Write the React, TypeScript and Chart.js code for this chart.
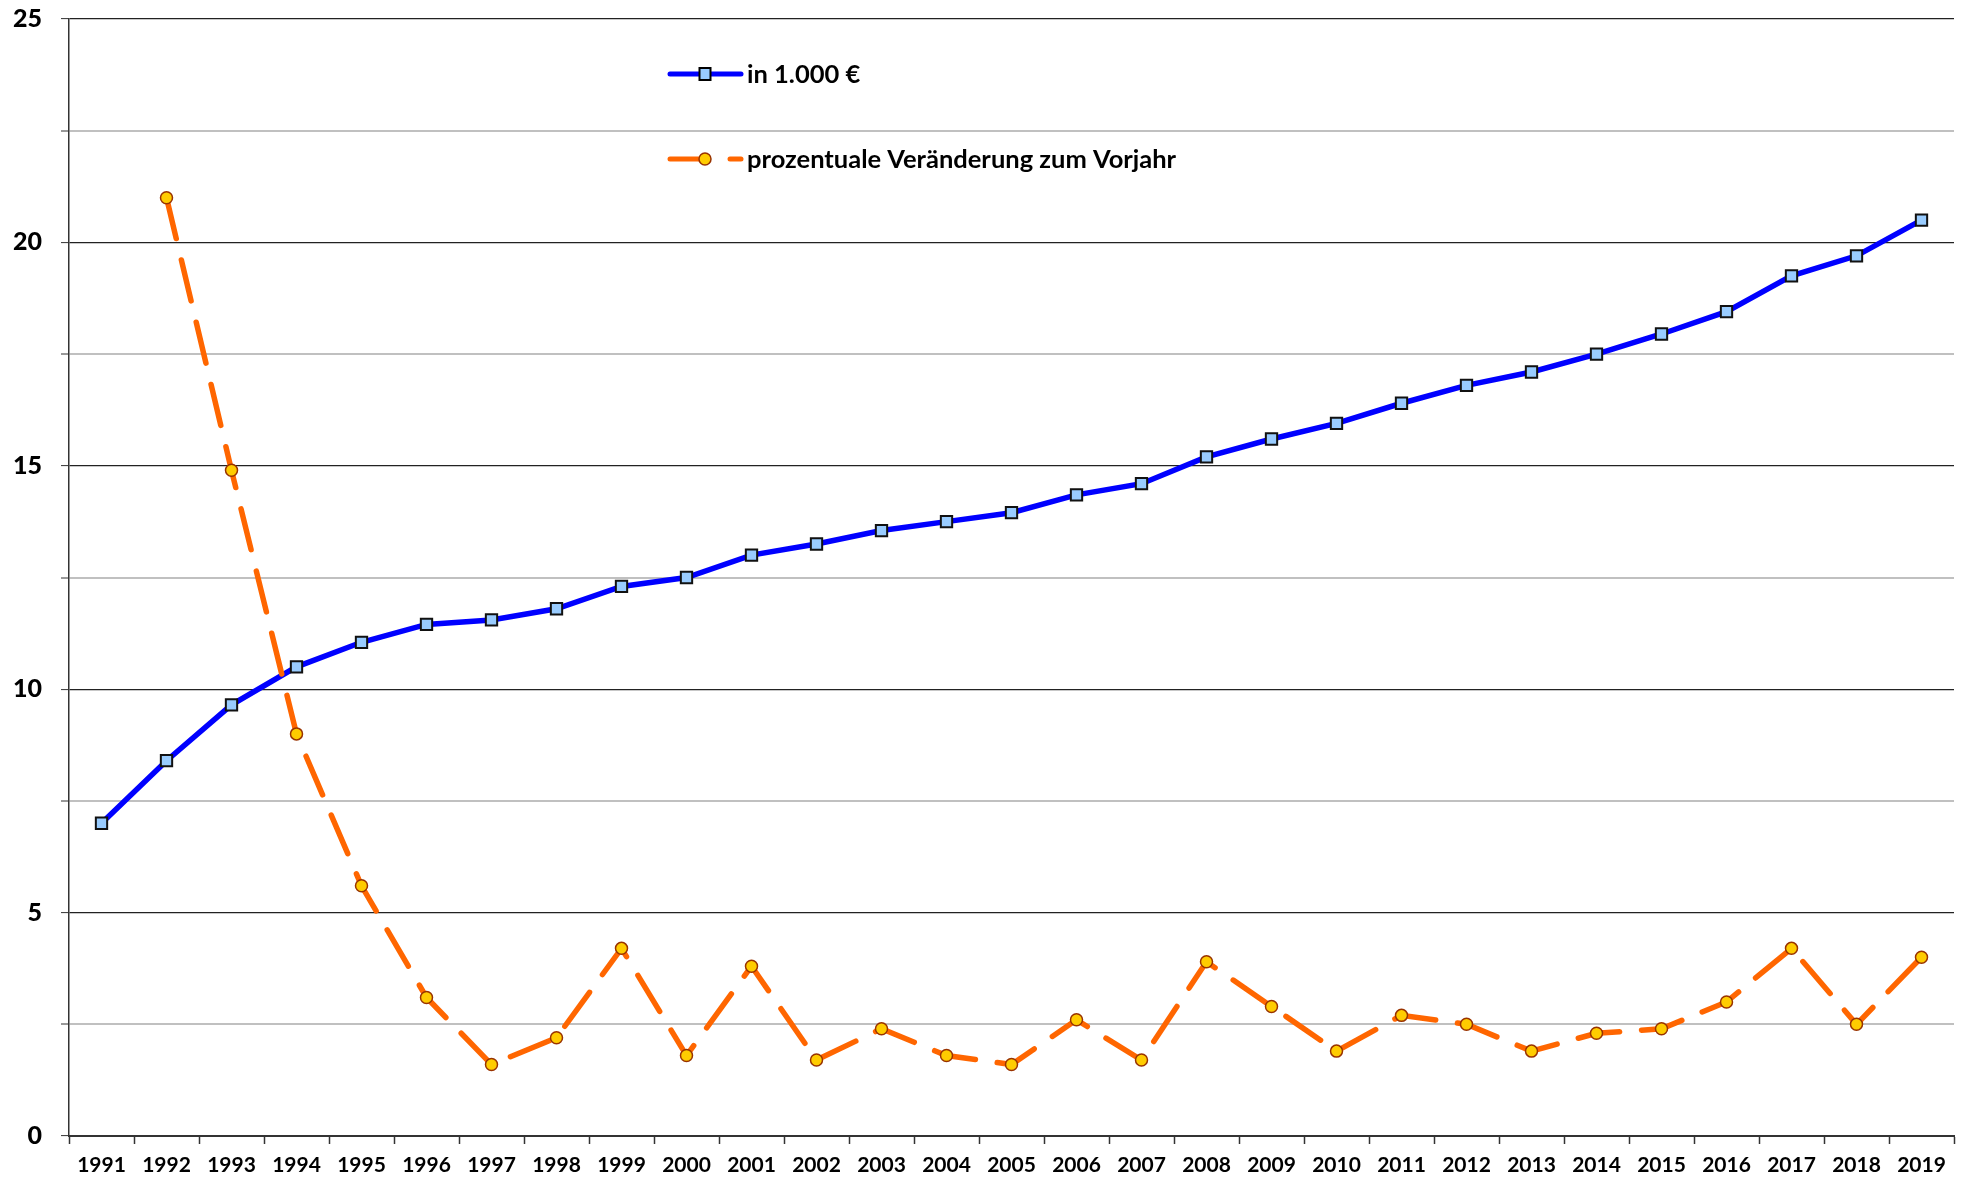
import React, { useEffect, useRef } from "react";
import { Chart, registerables } from "chart.js";

Chart.register(...registerables);

const years = [
  "1991", "1992", "1993", "1994", "1995", "1996", "1997", "1998", "1999", "2000",
  "2001", "2002", "2003", "2004", "2005", "2006", "2007", "2008", "2009", "2010",
  "2011", "2012", "2013", "2014", "2015", "2016", "2017", "2018", "2019",
];

const valuesThousandEuro = [
  7.0, 8.4, 9.65, 10.5, 11.05, 11.45, 11.55, 11.8, 12.3, 12.5,
  13.0, 13.25, 13.55, 13.75, 13.95, 14.35, 14.6, 15.2, 15.6, 15.95,
  16.4, 16.8, 17.1, 17.5, 17.95, 18.45, 19.25, 19.7, 20.5,
];

const percentChange = [
  null, 21.0, 14.9, 9.0, 5.6, 3.1, 1.6, 2.2, 4.2, 1.8,
  3.8, 1.7, 2.4, 1.8, 1.6, 2.6, 1.7, 3.9, 2.9, 1.9,
  2.7, 2.5, 1.9, 2.3, 2.4, 3.0, 4.2, 2.5, 4.0,
];

const seriesLabels = ["in 1.000 €", "prozentuale Veränderung zum Vorjahr"];

const yMin = 0;
const yMax = 25;
const yStep = 2.5;
const yLabelEvery = 5;

const FONT = "Lato, 'Open Sans', sans-serif";
const BLUE = "#0000FF";
const BLUE_FILL = "#99CCFF";
const ORANGE = "#FF6600";
const ORANGE_FILL = "#FFCC00";
const ORANGE_EDGE = "#993300";

const legendPlugin = {
  id: "customLegend",
  afterDraw(chart: any) {
    const ctx = chart.ctx;
    const area = chart.chartArea;
    const x0 = area.left + 601;
    const x1 = area.left + 672;
    const xm = area.left + 636;
    const xt = area.left + 678;
    const yA = area.top + 55;
    const yB = area.top + 140;
    ctx.save();
    ctx.lineCap = "round";
    // series 1
    ctx.strokeStyle = BLUE;
    ctx.lineWidth = 5;
    ctx.beginPath();
    ctx.moveTo(x0, yA);
    ctx.lineTo(x1, yA);
    ctx.stroke();
    ctx.fillStyle = BLUE_FILL;
    ctx.strokeStyle = "#000";
    ctx.lineWidth = 2;
    ctx.beginPath();
    ctx.rect(xm - 5.5, yA - 6, 11, 12);
    ctx.fill();
    ctx.stroke();
    // series 2
    ctx.strokeStyle = ORANGE;
    ctx.lineWidth = 5;
    ctx.beginPath();
    ctx.moveTo(x0, yB);
    ctx.lineTo(xm, yB);
    ctx.stroke();
    ctx.beginPath();
    ctx.moveTo(x1 - 11, yB);
    ctx.lineTo(x1, yB);
    ctx.stroke();
    ctx.fillStyle = ORANGE_FILL;
    ctx.strokeStyle = ORANGE_EDGE;
    ctx.lineWidth = 1.5;
    ctx.beginPath();
    ctx.arc(xm, yB, 6, 0, Math.PI * 2);
    ctx.fill();
    ctx.stroke();
    // texts
    ctx.fillStyle = "#000";
    ctx.font = `bold 25.5px ${FONT}`;
    ctx.textBaseline = "middle";
    ctx.textAlign = "left";
    ctx.fillText(seriesLabels[0], xt, yA + 1);
    ctx.fillText(seriesLabels[1], xt, yB + 1);
    ctx.restore();
  },
};

export default function App() {
  const canvasRef = useRef<HTMLCanvasElement | null>(null);

  useEffect(() => {
    const canvas = canvasRef.current;
    if (!canvas) return;
    const chart = new Chart(canvas, {
      type: "line",
      data: {
        labels: years,
        datasets: [
          {
            label: seriesLabels[0],
            data: valuesThousandEuro,
            borderColor: BLUE,
            borderWidth: 5.5,
            backgroundColor: BLUE_FILL,
            pointStyle: "rect",
            pointRadius: 8,
            pointBorderWidth: 2,
            pointBorderColor: "#111",
            pointBackgroundColor: BLUE_FILL,
            tension: 0,
            order: 2,
          },
          {
            label: seriesLabels[1],
            data: percentChange,
            borderColor: ORANGE,
            borderWidth: 5.5,
            borderDash: [42, 22],
            borderCapStyle: "round",
            backgroundColor: ORANGE_FILL,
            pointStyle: "circle",
            pointRadius: 6,
            pointBorderWidth: 1.5,
            pointBorderColor: ORANGE_EDGE,
            pointBackgroundColor: ORANGE_FILL,
            tension: 0,
            order: 1,
          },
        ],
      },
      options: {
        animation: false,
        responsive: false,
        maintainAspectRatio: false,
        layout: { autoPadding: false, padding: { top: 19, right: 10, left: 0, bottom: 0 } },
        plugins: {
          legend: { display: false },
          tooltip: { enabled: false },
        },
        scales: {
          x: {
            type: "category",
            offset: true,
            grid: {
              offset: true,
              drawOnChartArea: false,
              drawTicks: true,
              tickLength: 8,
              tickColor: "#333",
              tickWidth: 1.5,
            },
            border: { display: true, color: "#333", width: 2 },
            ticks: {
              color: "#000",
              font: { family: FONT, size: 21, weight: "bold" },
              padding: 9,
              maxRotation: 0,
              autoSkip: false,
            },
            afterFit(scale: any) {
              scale.height = 47;
              scale.paddingLeft = 0;
              scale.paddingRight = 0;
            },
          },
          y: {
            min: yMin,
            max: yMax,
            grid: {
              drawTicks: true,
              tickLength: 8,
              color: (c: any) =>
                c.tick && Math.abs(c.tick.value % yLabelEvery) < 1e-6 ? "#222" : "#c0c0c0",
              lineWidth: (c: any) =>
                c.tick && Math.abs(c.tick.value % yLabelEvery) < 1e-6 ? 1.2 : 2,
              tickColor: "#333",
              tickWidth: 1,
            },
            border: { display: true, color: "#333", width: 1.5 },
            ticks: {
              stepSize: yStep,
              color: "#000",
              padding: 19,
              font: { family: FONT, size: 25, weight: "900" },
              callback: (v: any) =>
                Math.abs(Number(v) % yLabelEvery) < 1e-6 ? String(v) : "",
            },
            afterFit(scale: any) {
              scale.width = 69;
              scale.paddingTop = 0;
              scale.paddingBottom = 0;
            },
          },
        },
      },
      plugins: [legendPlugin],
    });
    return () => chart.destroy();
  }, []);

  return (
    <div style={{ position: "absolute", left: 0, top: 0, width: 1964, height: 1183, background: "#fff" }}>
      <canvas ref={canvasRef} width={1964} height={1183} style={{ display: "block" }} />
    </div>
  );
}
